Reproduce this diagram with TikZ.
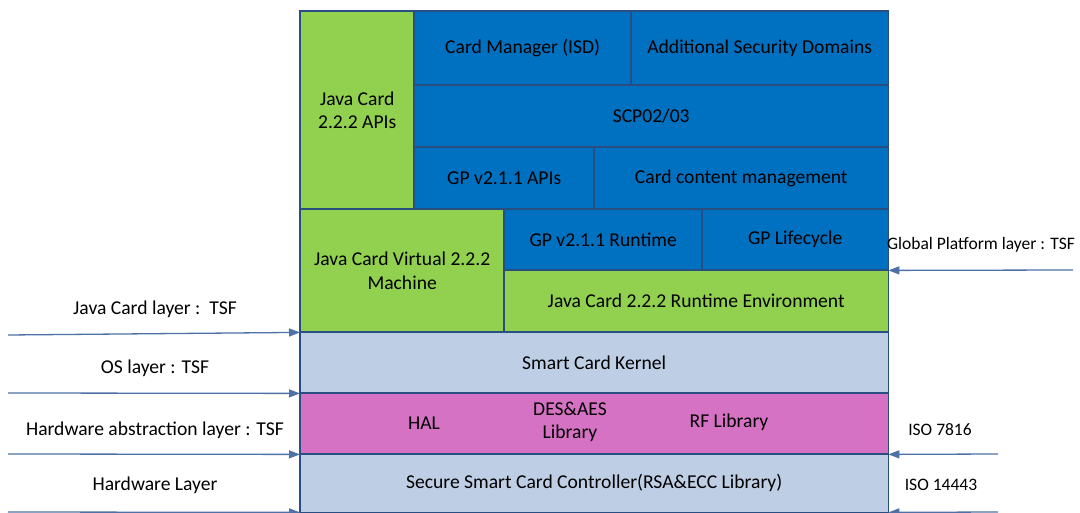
\documentclass[tikz,border=0pt]{standalone}
\usepackage{fontspec}
\setmainfont{Carlito}
\usetikzlibrary{arrows.meta}
\definecolor{jgreen}{RGB}{146,208,80}
\definecolor{gblue}{RGB}{0,112,192}
\definecolor{lsteel}{RGB}{190,206,228}
\definecolor{hpink}{RGB}{214,114,196}
\definecolor{bordercol}{RGB}{40,78,130}
\definecolor{arrcol}{RGB}{79,113,166}
\begin{document}
\begin{tikzpicture}[x=1pt,y=1pt,
  cell/.style={anchor=north west, inner sep=0pt,
    align=center, text=black, font=\fontsize{19.6}{23.5}\selectfont},
  lbl/.style={text=black, font=\fontsize{19.6}{23.5}\selectfont, align=center, inner sep=0pt},
  rlbl/.style={text=black, font=\fontsize{17.5}{21}\selectfont, align=center, inner sep=0pt},
  cellline/.style={draw=bordercol, line width=1.1pt},
  arr/.style={draw=arrcol, line width=1.3pt, -{Triangle[length=11pt,width=8pt]}}]
\useasboundingbox (0,0) rectangle (1080,-513);
\fill[white] (0,0) rectangle (1080,-513);
% top block
\node[cell, fill=jgreen, minimum width=114, minimum height=198] (jcapi) at (300,-11) {Java Card\\2.2.2 APIs};
\node[cell, fill=gblue, minimum width=217, minimum height=74] (cmisd) at (414,-11) {Card Manager (ISD)};
\node[cell, fill=gblue, minimum width=257, minimum height=74] (asd) at (631,-11) {Additional Security Domains};
\node[cell, fill=gblue, minimum width=474, minimum height=62] (scp) at (414,-85) {SCP02/03};
\node[cell, fill=gblue, minimum width=180, minimum height=62] (gpapi) at (414,-147) {GP v2.1.1 APIs};
\node[cell, fill=gblue, minimum width=294, minimum height=62] (ccm) at (594,-147) {Card content management};
\node[cell, fill=jgreen, minimum width=204, minimum height=123] (jcvm) at (300,-209) {Java Card Virtual 2.2.2\\Machine};
\node[cell, fill=gblue, minimum width=198, minimum height=61] (gprt) at (504,-209) {GP v2.1.1 Runtime};
\node[cell, fill=gblue, minimum width=186, minimum height=61] (gplc) at (702,-209) {GP Lifecycle};
\node[cell, fill=jgreen, minimum width=384, minimum height=62] (jcre) at (504,-270) {Java Card 2.2.2 Runtime Environment};
\node[cell, fill=lsteel, minimum width=588, minimum height=61] (kernel) at (300,-332) {Smart Card Kernel};
\node[cell, fill=hpink, minimum width=588, minimum height=61] (hal) at (300,-393) {};
\node[lbl] (haltxt) at (424,-423) {HAL};
\node[lbl] (desaes) at (570,-422) {DES\&AES\\Library};
\node[lbl] (rflib) at (729,-422) {RF Library};
\node[cell, fill=lsteel, minimum width=588, minimum height=58] (ctrl) at (300,-454) {Secure Smart Card Controller(RSA\&ECC Library)};
% outlines on top of all fills
\draw[cellline] (jcapi.south west) rectangle (jcapi.north east);
\draw[cellline] (cmisd.south west) rectangle (cmisd.north east);
\draw[cellline] (asd.south west) rectangle (asd.north east);
\draw[cellline] (scp.south west) rectangle (scp.north east);
\draw[cellline] (gpapi.south west) rectangle (gpapi.north east);
\draw[cellline] (ccm.south west) rectangle (ccm.north east);
\draw[cellline] (jcvm.south west) rectangle (jcvm.north east);
\draw[cellline] (gprt.south west) rectangle (gprt.north east);
\draw[cellline] (gplc.south west) rectangle (gplc.north east);
\draw[cellline] (jcre.south west) rectangle (jcre.north east);
\draw[cellline] (kernel.south west) rectangle (kernel.north east);
\draw[cellline] (hal.south west) rectangle (hal.north east);
\draw[cellline] (ctrl.south west) rectangle (ctrl.north east);
% left labels
\node[lbl] (ljc) at (155,-309) {Java Card layer :~~TSF};
\node[lbl] (los) at (155,-368) {OS layer : TSF};
\node[lbl] (lhal) at (155,-430) {Hardware abstraction layer : TSF};
\node[lbl] (lhw) at (155,-485) {Hardware Layer};
% right labels
\node[rlbl] (rgp) at (981,-245) {Global Platform layer : TSF};
\node[rlbl] (r7816) at (940,-430) {ISO 7816};
\node[rlbl] (r14443) at (941,-485) {ISO 14443};
% arrow start points
\coordinate (a1) at (8,-335);
\coordinate (a2) at (8,-393);
\coordinate (a3) at (8,-454);
\coordinate (a4) at (8,-512);
\coordinate (b1) at (1073,-270);
\coordinate (b2) at (998,-454);
\coordinate (b3) at (998,-512);
\draw[arr] (a1) -- (jcvm.south west);
\draw[arr] (a2) -- (kernel.south west);
\draw[arr] (a3) -- (hal.south west);
\draw[arr] (a4) -- (ctrl.south west);
\draw[arr] (b1) -- (gplc.south east);
\draw[arr] (b2) -- (hal.south east);
\draw[arr] (b3) -- (ctrl.south east);
\end{tikzpicture}
\end{document}
